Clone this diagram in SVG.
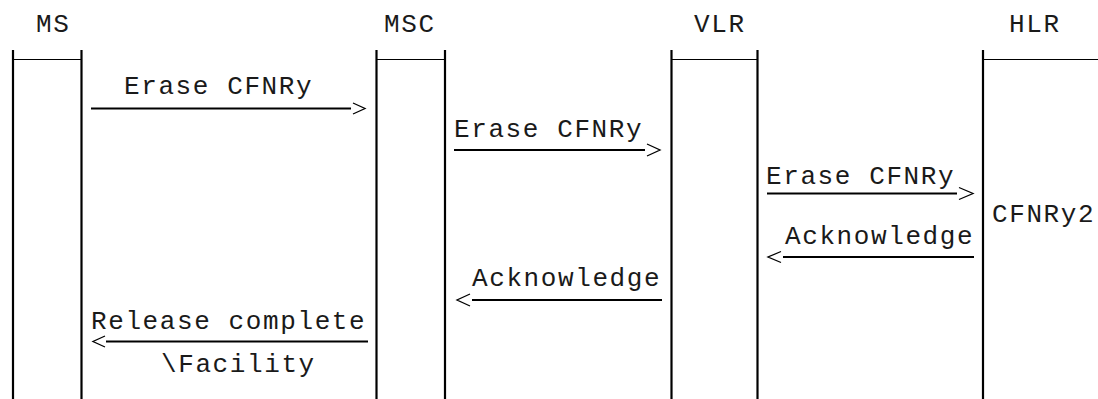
<svg xmlns="http://www.w3.org/2000/svg" width="1098" height="399" viewBox="0 0 1098 399">
<style>
text{font-family:"Liberation Mono","Courier New",monospace;font-size:26px;letter-spacing:1.6px;fill:#1a1a1a}
.life{stroke:#000;stroke-width:2.2;fill:none}
.bar{stroke:#000;stroke-width:1.2;fill:none}
.msg{stroke:#000;stroke-width:1.8;fill:none}
.head{stroke:#000;stroke-width:1.3;fill:none;stroke-linejoin:miter}
</style>
<rect width="1098" height="399" fill="#fff"/>
<g id="MS">
<text x="36" y="31.5">MS</text>
<line class="life" x1="13" y1="50" x2="13" y2="399"/>
<line class="life" x1="81.5" y1="50" x2="81.5" y2="399"/>
<line class="bar" x1="13" y1="59.5" x2="81.5" y2="59.5"/>
</g>
<g id="MSC">
<text x="384" y="31.5">MSC</text>
<line class="life" x1="376.5" y1="50" x2="376.5" y2="399"/>
<line class="life" x1="445" y1="50" x2="445" y2="399"/>
<line class="bar" x1="376.5" y1="59.5" x2="445" y2="59.5"/>
</g>
<g id="VLR">
<text x="694" y="31.5">VLR</text>
<line class="life" x1="671.5" y1="50" x2="671.5" y2="399"/>
<line class="life" x1="757.5" y1="50" x2="757.5" y2="399"/>
<line class="bar" x1="671.5" y1="59.5" x2="757.5" y2="59.5"/>
</g>
<g id="HLR">
<text x="1009" y="31.5">HLR</text>
<line class="life" x1="983" y1="50" x2="983" y2="399"/>
<line class="bar" x1="983" y1="59.5" x2="1098" y2="59.5"/>
<text x="992" y="221.5">CFNRy2</text>
</g>
<g id="connectors">
<text x="124" y="94">Erase CFNRy</text>
<line class="msg" x1="91" y1="108.5" x2="351" y2="108.5"/>
<polyline class="head" points="353,103 365,108.5 353,114"/>

<text x="454" y="137">Erase CFNRy</text>
<line class="msg" x1="454" y1="150" x2="645" y2="150"/>
<polyline class="head" points="647,144 660,150 647,156"/>

<text x="766" y="183.5">Erase CFNRy</text>
<line class="msg" x1="767" y1="193.5" x2="957" y2="193.5"/>
<polyline class="head" points="959,187.5 973,193.5 959,199.5"/>

<text x="785" y="244">Acknowledge</text>
<line class="msg" x1="783" y1="257" x2="974" y2="257"/>
<polyline class="head" points="781,251.5 768,257 781,262.5"/>

<text x="472" y="286">Acknowledge</text>
<line class="msg" x1="472" y1="300" x2="662" y2="300"/>
<polyline class="head" points="470,294 457,300 470,306"/>

<text x="91" y="328.5">Release complete</text>
<line class="msg" x1="106" y1="341.5" x2="368" y2="341.5"/>
<polyline class="head" points="105,336 93,341.5 105,347"/>
<text x="161" y="371.5">\Facility</text>
</g>
</svg>
